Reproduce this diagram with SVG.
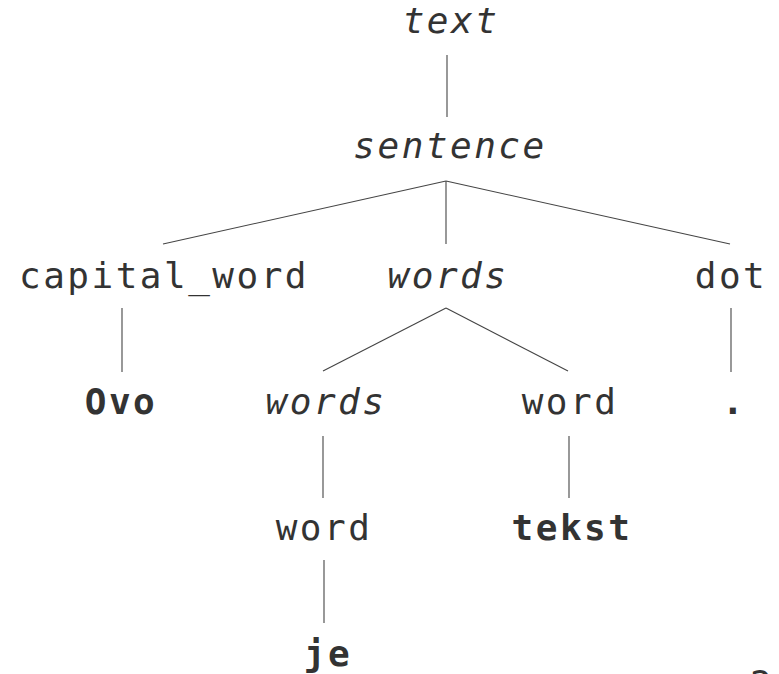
<svg xmlns="http://www.w3.org/2000/svg" width="779" height="674" viewBox="0 0 779 674">
  <style>
    .lbl { font-family: "DejaVu Sans Mono", "Liberation Mono", monospace; font-size: 36px; letter-spacing: 2.5px; fill: #333333; text-anchor: middle; }
    .nt { font-style: italic; }
    .tok { font-weight: bold; }
    .edge { stroke: #444444; stroke-width: 1.1; fill: none; }
  </style>
  <rect width="779" height="674" fill="#ffffff"/>

  <!-- tree edges -->
  <g id="edges">
    <line class="edge" x1="447" y1="55" x2="447" y2="117"/>
    <line class="edge" x1="446" y1="181" x2="163" y2="244"/>
    <line class="edge" x1="446" y1="181" x2="446" y2="244"/>
    <line class="edge" x1="446" y1="181" x2="730" y2="244"/>
    <line class="edge" x1="122" y1="308" x2="122" y2="372"/>
    <line class="edge" x1="446" y1="308" x2="323" y2="371"/>
    <line class="edge" x1="446" y1="308" x2="568" y2="371"/>
    <line class="edge" x1="731" y1="308" x2="731" y2="372"/>
    <line class="edge" x1="323" y1="436" x2="323" y2="498"/>
    <line class="edge" x1="569" y1="436" x2="569" y2="498"/>
    <line class="edge" x1="324" y1="560" x2="324" y2="623"/>
  </g>

  <!-- nonterminals and tokens -->
  <g id="n-text"><text class="lbl nt" x="451" y="33">text</text></g>
  <g id="n-sentence"><text class="lbl nt" x="450" y="158">sentence</text></g>
  <g id="n-capital-word"><text class="lbl" x="164" y="288">capital_word</text></g>
  <g id="n-words"><text class="lbl nt" x="448" y="288">words</text></g>
  <g id="n-dot"><text class="lbl" x="731" y="288">dot</text></g>
  <g id="t-ovo"><text class="lbl tok" x="121" y="414">Ovo</text></g>
  <g id="n-words-2"><text class="lbl nt" x="326" y="414">words</text></g>
  <g id="n-word"><text class="lbl" x="570" y="414">word</text></g>
  <g id="t-dot"><text class="lbl tok" x="734" y="414">.</text></g>
  <g id="n-word-2"><text class="lbl" x="324" y="540">word</text></g>
  <g id="t-tekst"><text class="lbl tok" x="572" y="540">tekst</text></g>
  <g id="t-je"><text class="lbl tok" x="328" y="666">je</text></g>
  <g id="page-number"><text class="lbl" x="762" y="696">2</text></g>
</svg>
